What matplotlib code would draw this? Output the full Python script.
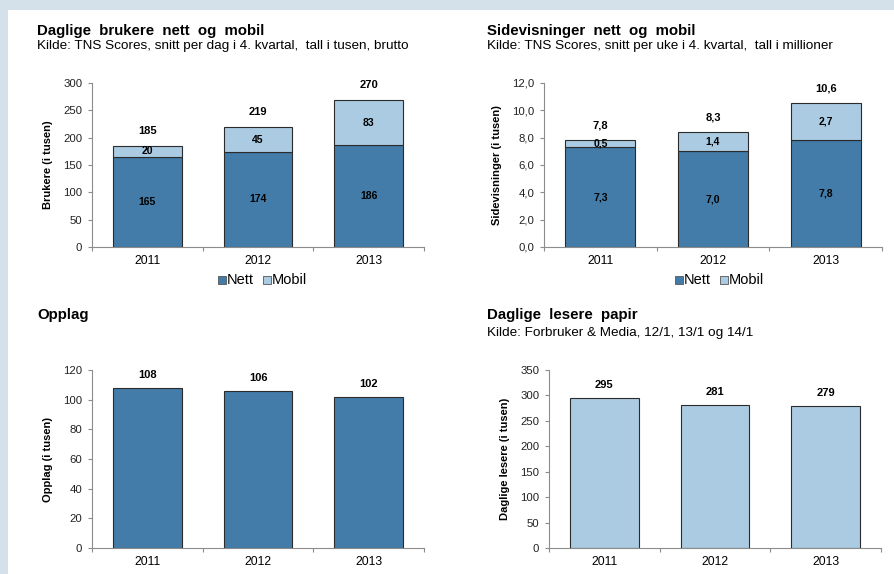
import matplotlib
matplotlib.use("Agg")
import matplotlib.pyplot as plt
from matplotlib.patches import Rectangle

plt.rcParams["font.family"] = ["Liberation Sans", "DejaVu Sans"]

# data
years = ["2011", "2012", "2013"]

brukere_nett = [165, 174, 186]
brukere_mobil = [20, 45, 83]
brukere_total = [185, 219, 270]

sider_nett = [7.3, 7.0, 7.8]
sider_mobil = [0.5, 1.4, 2.7]
sider_total = [7.8, 8.3, 10.6]

opplag = [108, 106, 102]
lesere = [295, 281, 279]

DARK = "#437ca8"
LIGHT = "#aacbe1"
EDGE = "#2b2b2b"
AXIS = "#8c8c8c"
BORDER = "#d5e1ea"

W, H = 894, 574


def fmt(v, comma):
    if comma:
        return f"{v:.1f}".replace(".", ",")
    return f"{v:.0f}"


def px_axes(fig, left, top, right, bottom):
    return fig.add_axes([left / W, 1 - bottom / H, (right - left) / W, (bottom - top) / H])


def style_axes(ax, ymax, step, ylabel, comma=False):
    ax.set_xlim(-0.5, 2.5)
    ax.set_ylim(0, ymax)
    ticks = [i * step for i in range(int(round(ymax / step)) + 1)]
    ax.set_yticks(ticks)
    ax.set_yticklabels([fmt(t, comma) for t in ticks], fontsize=8.2, color="#222222")
    ax.set_xticks(range(3))
    ax.set_xticklabels(years, fontsize=8.7)
    ax.tick_params(axis="x", length=0, pad=6)
    ax.tick_params(axis="y", length=3, color=AXIS, width=0.8, pad=4)
    # category boundary ticks like Excel
    ax.set_xticks([-0.5, 0.5, 1.5, 2.5], minor=True)
    ax.tick_params(axis="x", which="minor", length=3, color=AXIS, width=0.8)
    for s in ["top", "right"]:
        ax.spines[s].set_visible(False)
    for s in ["left", "bottom"]:
        ax.spines[s].set_color(AXIS)
        ax.spines[s].set_linewidth(0.8)
    ax.set_ylabel(ylabel, fontsize=8, fontweight="bold", labelpad=7)
    ax.patch.set_alpha(0)


def stacked(ax, nett, mobil, total, comma=False):
    x = range(3)
    ax.bar(x, nett, width=0.62, color=DARK, edgecolor=EDGE, linewidth=0.8)
    ax.bar(x, mobil, width=0.62, bottom=nett, color=LIGHT, edgecolor=EDGE, linewidth=0.8)
    for i in x:
        ax.text(i, nett[i] / 2, fmt(nett[i], comma), ha="center", va="center",
                fontsize=7.5, fontweight="bold")
        ax.text(i, nett[i] + mobil[i] / 2, fmt(mobil[i], comma), ha="center",
                va="center", fontsize=7.5, fontweight="bold")
        ax.annotate(fmt(total[i], comma), (i, nett[i] + mobil[i]),
                    xytext=(0, 15), textcoords="offset pixels",
                    ha="center", va="center", fontsize=8, fontweight="bold")


def single(ax, vals, color):
    x = range(3)
    ax.bar(x, vals, width=0.62, color=color, edgecolor=EDGE, linewidth=0.8)
    for i in x:
        ax.annotate(fmt(vals[i], False), (i, vals[i]), xytext=(0, 13),
                    textcoords="offset pixels", ha="center", va="center",
                    fontsize=8, fontweight="bold")


def legend_row(fig, x0, y):
    # two square markers + labels, drawn the way Excel places them
    items = [("Nett", DARK), ("Mobil", LIGHT)]
    x = x0
    for name, col in items:
        fig.patches.append(Rectangle((x / W, 1 - (y + 4) / H), 8 / W, 8 / H,
                                     transform=fig.transFigure, facecolor=col,
                                     edgecolor="#555555", linewidth=0.6))
        fig.text((x + 9) / W, 1 - y / H, name, fontsize=10.5, va="center", ha="left")
        x += 45


fig = plt.figure(figsize=(W / 100, H / 100), dpi=100)
fig.patch.set_facecolor("white")

# light frame on the left and top
fig.patches.append(Rectangle((0, 0), 8 / W, 1, transform=fig.transFigure,
                             facecolor=BORDER, edgecolor="none"))
fig.patches.append(Rectangle((0, 1 - 10 / H), 1, 10 / H, transform=fig.transFigure,
                             facecolor=BORDER, edgecolor="none"))

# titles
fig.text(37 / W, 1 - 31 / H, "Daglige  brukere  nett  og  mobil", fontsize=10.8,
         fontweight="bold", va="center")
fig.text(37 / W, 1 - 46 / H, "Kilde: TNS Scores, snitt per dag i 4. kvartal,  tall i tusen, brutto",
         fontsize=9.7, va="center")
fig.text(487 / W, 1 - 31 / H, "Sidevisninger  nett  og  mobil", fontsize=10.8,
         fontweight="bold", va="center")
fig.text(487 / W, 1 - 46 / H, "Kilde: TNS Scores, snitt per uke i 4. kvartal,  tall i millioner",
         fontsize=9.7, va="center")
fig.text(37 / W, 1 - 315 / H, "Opplag", fontsize=10.8, fontweight="bold", va="center")
fig.text(487 / W, 1 - 315 / H, "Daglige  lesere  papir", fontsize=10.8,
         fontweight="bold", va="center")
fig.text(487 / W, 1 - 333 / H, "Kilde: Forbruker & Media, 12/1, 13/1 og 14/1",
         fontsize=9.7, va="center")

ax1 = px_axes(fig, 92, 83, 424, 247)
stacked(ax1, brukere_nett, brukere_mobil, brukere_total)
style_axes(ax1, 300, 50, "Brukere (i tusen)")
legend_row(fig, 218, 280)

ax2 = px_axes(fig, 544, 83, 882, 247)
stacked(ax2, sider_nett, sider_mobil, sider_total, comma=True)
style_axes(ax2, 12, 2, "Sidevisninger (i tusen)", comma=True)
legend_row(fig, 675, 280)

ax3 = px_axes(fig, 92, 370, 424, 548)
single(ax3, opplag, DARK)
style_axes(ax3, 120, 20, "Opplag (i tusen)")

ax4 = px_axes(fig, 549, 370, 881, 548)
single(ax4, lesere, LIGHT)
style_axes(ax4, 350, 50, "Daglige lesere (i tusen)")

fig.savefig("out.png", dpi=100)
